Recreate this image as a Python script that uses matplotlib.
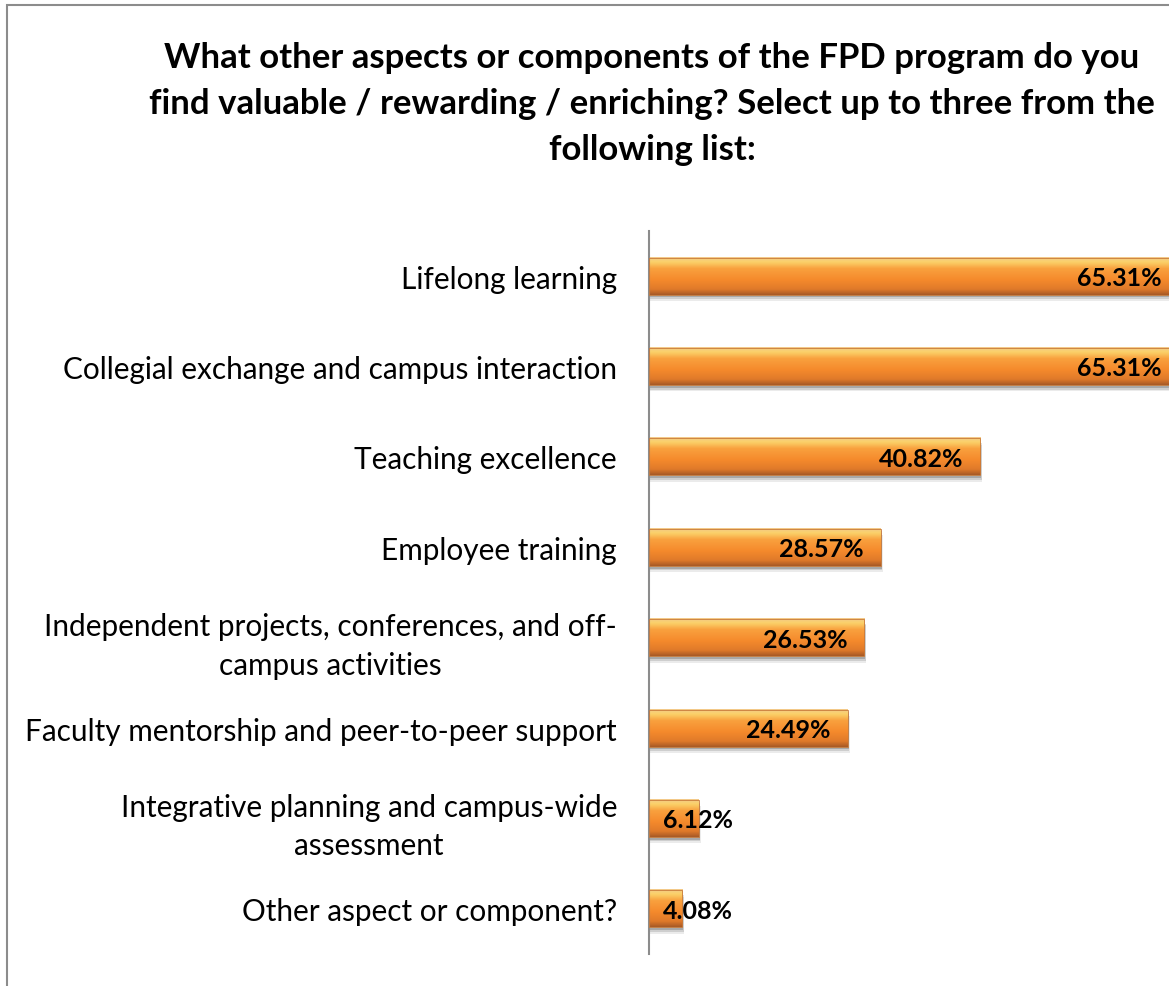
import matplotlib; matplotlib.use("Agg")
import matplotlib.pyplot as plt
import numpy as np
from matplotlib.colors import LinearSegmentedColormap
from matplotlib.patches import Rectangle

categories = [
    "Lifelong learning",
    "Collegial exchange and campus interaction",
    "Teaching excellence",
    "Employee training",
    "Independent projects, conferences, and off-\ncampus activities",
    "Faculty mentorship and peer-to-peer support",
    "Integrative planning and campus-wide\nassessment",
    "Other aspect or component?",
]
values = [65.31, 65.31, 40.82, 28.57, 26.53, 24.49, 6.12, 4.08]
title = ("What other aspects or components of the FPD program do you\n"
         "find valuable / rewarding / enriching? Select up to three from the\n"
         "following list:")

plt.rcParams["font.family"] = ["Lato", "DejaVu Sans"]

W, H = 1169, 987
fig = plt.figure(figsize=(W/100, H/100), dpi=100)
# chart border (right/bottom edges fall outside the picture)
fig.patches.append(Rectangle((7/W, -0.05), 1.2, 1 - 6/H + 0.05, transform=fig.transFigure,
                             fill=False, ec="#8c8c8c", lw=1.5))

px = 8.11  # pixels per percent
xmax = 70
ax = fig.add_axes([649/W, 1 - 955/H, xmax*px/W, (955-232)/H])
ax.set_xlim(0, xmax)
ax.set_ylim(len(categories) - 0.5, -0.5)

cmap = LinearSegmentedColormap.from_list("bar", [
    (0.0, "#f3c98a"), (0.12, "#fbd26a"), (0.3, "#f9a13e"),
    (0.6, "#f58a2c"), (0.85, "#e07a2a"), (1.0, "#a85a26")])
grad = np.linspace(0, 1, 64).reshape(-1, 1)
h = 0.41
for i, v in enumerate(values):
    # soft shadow
    for k, a in zip([0.07, 0.05, 0.03], [0.08, 0.12, 0.18]):
        ax.add_patch(Rectangle((0, i - h/2 + k), v + k*4, h, fc="#000000", alpha=a, lw=0, zorder=1))
    ax.imshow(grad, cmap=cmap, aspect="auto", extent=(0, v, i + h/2, i - h/2),
              zorder=2, interpolation="bilinear")
    ax.add_patch(Rectangle((0, i - h/2), v, h, fill=False, ec="#c87a3a", lw=0.6, zorder=3))
    if v * px > 110:
        ax.annotate(f"{v:.2f}%", (v, i), xytext=(-12, -1), textcoords="offset points",
                    ha="right", va="center", fontsize=18, fontweight="bold", zorder=4)
    else:
        ax.annotate(f"{v:.2f}%", (0, i), xytext=(10, -1), textcoords="offset points",
                    ha="left", va="center", fontsize=18, fontweight="bold", zorder=4)

ax.set_yticks(range(len(categories)))
ax.set_yticklabels(categories, fontsize=21.4, multialignment="center", linespacing=1.45)
ax.tick_params(axis="y", length=0, pad=23)
ax.set_xticks([])
for s in ["top", "right", "bottom"]:
    ax.spines[s].set_visible(False)
ax.spines["left"].set_color("#8c8c8c")
ax.spines["left"].set_linewidth(1.5)

fig.text(652/W, 1 - 104/H, title, ha="center", va="center", fontsize=25,
         fontweight="bold", linespacing=1.52)

fig.savefig("out.png", dpi=100)
